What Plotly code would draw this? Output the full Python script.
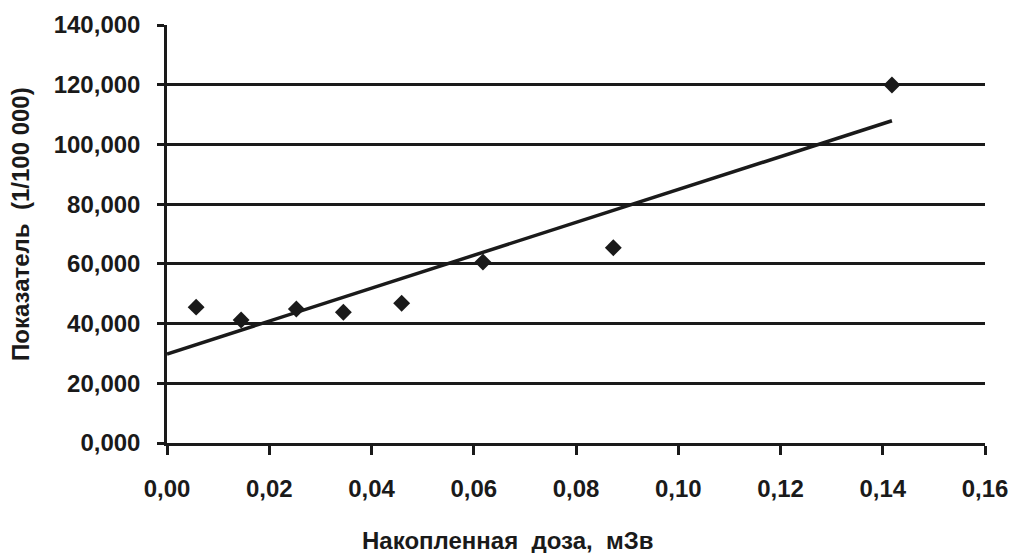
import numpy as np
import plotly.graph_objects as go

# Accumulated dose (mSv) and incidence rate (per 100 000)
dose = [0.0057, 0.0145, 0.0253, 0.0345, 0.0459, 0.0618, 0.0873, 0.1418]
rate = [45.5, 41.2, 44.9, 43.8, 46.8, 60.6, 65.4, 119.9]

y_ticks = [0, 20, 40, 60, 80, 100, 120, 140]
y_tick_labels = ["0,000", "20,000", "40,000", "60,000", "80,000",
                 "100,000", "120,000", "140,000"]
x_ticks = [0.00, 0.02, 0.04, 0.06, 0.08, 0.10, 0.12, 0.14, 0.16]
x_tick_labels = ["0,00", "0,02", "0,04", "0,06", "0,08",
                 "0,10", "0,12", "0,14", "0,16"]

x_title = "Накопленная  доза,  мЗв"
y_title = "Показатель  (1/100 000)"

# Linear trend fitted to the observations
slope, intercept = np.polyfit(dose, rate, 1)
trend_x = [0.0, max(dose)]
trend_y = [intercept + slope * v for v in trend_x]

ink = "#1a1a1a"
font = "Liberation Sans, Arial, sans-serif"

fig = go.Figure()
fig.add_trace(go.Scatter(
    x=trend_x, y=trend_y, mode="lines",
    line=dict(color=ink, width=3.5), hoverinfo="skip", showlegend=False,
))
fig.add_trace(go.Scatter(
    x=dose, y=rate, mode="markers",
    marker=dict(symbol="diamond", size=13, color=ink),
    showlegend=False,
))

fig.update_layout(
    width=1013, height=553,
    margin=dict(l=167, r=28, t=25, b=110),
    paper_bgcolor="white", plot_bgcolor="white",
    font=dict(family=font, color=ink),
    annotations=[
        dict(text=f"<b>{x_title}</b>", xref="paper", yref="paper",
             x=(508 - 167) / 818, y=-(540 - 443) / 418,
             xanchor="center", yanchor="middle", showarrow=False,
             font=dict(family=font, size=24, color=ink)),
        dict(text=f"<b>{y_title}</b>", xref="paper", yref="paper",
             x=-(167 - 20) / 818, y=(443 - 224) / 418, textangle=-90,
             xanchor="center", yanchor="middle", showarrow=False,
             font=dict(family=font, size=24, color=ink)),
    ],
)
fig.update_xaxes(
    range=[0, 0.16], tickvals=x_ticks, ticktext=x_tick_labels,
    tickfont=dict(family=font, size=24, color=ink, weight="bold"),
    showgrid=False, zeroline=False, automargin=False,
    showline=True, linecolor=ink, linewidth=2.5,
    ticks="outside", ticklen=9, tickwidth=2.5, tickcolor=ink,
    ticklabelstandoff=13,
)
fig.update_yaxes(
    range=[0, 140], tickvals=y_ticks, ticktext=y_tick_labels,
    tickfont=dict(family=font, size=24, color=ink, weight="bold"),
    showgrid=True, gridcolor=ink, gridwidth=2.5, zeroline=False,
    automargin=False,
    showline=True, linecolor=ink, linewidth=2.5,
    ticks="outside", ticklen=7, tickwidth=2.5, tickcolor=ink,
    ticklabelstandoff=12,
)

fig.write_html("out.html")
